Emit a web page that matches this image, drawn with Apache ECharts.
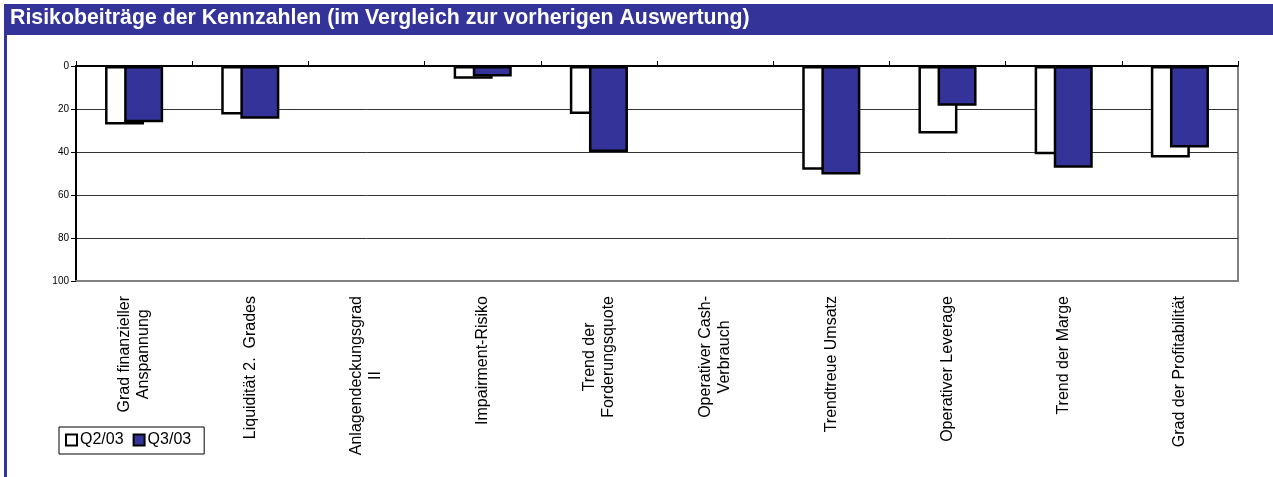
<!DOCTYPE html>
<html>
<head>
<meta charset="utf-8">
<title>Risikobeiträge der Kennzahlen</title>
<script src="https://cdn.jsdelivr.net/npm/echarts@6/dist/echarts.min.js"></script>
<style>
  html, body { margin: 0; padding: 0; background: #fff; }
  #main { width: 1273px; height: 477px; }
</style>
</head>
<body>
<div id="main"></div>
<script>
  // Kennzahlen (Kategorien)
  var categories = [
    'Grad finanzieller\nAnspannung',
    'Liquidität 2.  Grades',
    'Anlagendeckungsgrad\nII',
    'Impairment-Risiko',
    'Trend der\nForderungsquote',
    'Operativer Cash-\nVerbrauch',
    'Trendtreue Umsatz',
    'Operativer Leverage',
    'Trend der Marge',
    'Grad der Profitabilität'
  ];
  var seriesNames = ['Q2/03', 'Q3/03'];
  // keine Balken bei Anlagendeckungsgrad II und Operativer Cash-Verbrauch
  var q2Values = [27.2, 22.6, null, 5.9, 22.3, null, 48.3, 31.4, 41.1, 42.5];
  var q3Values = [26.2, 24.5, null, 4.9, 40.0, null, 50.5, 18.5, 47.3, 37.9];
  var yTicks = [0, 20, 40, 60, 80, 100];

  var FONT = '"Liberation Sans", Arial, sans-serif';
  var BLUE = '#333399';

  var myChart = echarts.init(document.getElementById('main'));

  var option = {
    animation: false,
    textStyle: { fontFamily: FONT, color: '#000' },
    title: {
      text: 'Risikobeiträge der Kennzahlen (im Vergleich zur vorherigen Auswertung)',
      left: 10,
      top: 8,
      padding: 0,
      textStyle: { color: '#fff', fontSize: 21.3, fontWeight: 'bold', fontFamily: FONT }
    },
    graphic: [
      // Titelbalken + linker Rand
      { type: 'rect', z: -1, shape: { x: 4, y: 4, width: 1269, height: 31 }, style: { fill: BLUE } },
      { type: 'rect', z: -1, shape: { x: 4, y: 4, width: 3, height: 473 }, style: { fill: BLUE } }
    ],
    legend: {
      data: seriesNames,
      left: 59,
      top: 427,
      orient: 'horizontal',
      icon: 'rect',
      itemWidth: 11,
      itemHeight: 11,
      itemGap: 9,
      padding: [5, 13, 6, 6],
      borderColor: '#000',
      borderWidth: 1,
      itemStyle: { borderColor: '#000', borderWidth: 2 },
      textStyle: { fontSize: 16, color: '#000', fontFamily: FONT, padding: [0, 0, 0, -2] }
    },
    grid: {
      left: 76,
      right: 35,
      top: 66,
      bottom: 196,
      show: true,
      borderColor: '#808080',
      borderWidth: 2,
      containLabel: false
    },
    xAxis: [
      {
        type: 'category',
        position: 'top',
        data: categories,
        axisLine: { show: true, lineStyle: { color: '#000', width: 2 } },
        axisTick: { show: true, interval: 0, length: 5, lineStyle: { color: '#000', width: 1 } },
        axisLabel: { show: false },
        splitLine: { show: false }
      },
      {
        type: 'category',
        position: 'bottom',
        data: categories,
        axisLine: { show: true, onZero: false, lineStyle: { color: '#808080', width: 2 } },
        axisTick: { show: false },
        axisLabel: {
          show: true,
          interval: 0,
          rotate: 90,
          margin: 15,
          fontSize: 16,
          lineHeight: 19,
          color: '#000',
          fontFamily: FONT,
          formatter: function (v) {
            return v.split('\n').map(function (l) { return '{c|' + l + '}'; }).join('\n');
          },
          rich: { c: { align: 'center', fontSize: 16, lineHeight: 19, fontFamily: FONT } }
        },
        splitLine: { show: false }
      }
    ],
    yAxis: {
      type: 'value',
      inverse: true,
      min: yTicks[0],
      max: yTicks[yTicks.length - 1],
      interval: yTicks[1] - yTicks[0],
      axisLine: { show: true, lineStyle: { color: '#000', width: 2 } },
      axisTick: { show: true, length: 5, lineStyle: { color: '#000' } },
      axisLabel: { fontSize: 10, color: '#000', margin: 7, fontFamily: FONT },
      splitLine: { show: true, lineStyle: { color: '#333', width: 1 } }
    },
    series: [
      {
        name: seriesNames[0],
        type: 'bar',
        xAxisIndex: 0,
        data: q2Values,
        barWidth: 39,
        barGap: '-51%',
        itemStyle: { color: '#fff', borderColor: '#000', borderWidth: 2.5 }
      },
      {
        name: seriesNames[1],
        type: 'bar',
        xAxisIndex: 0,
        data: q3Values,
        barWidth: 39,
        barGap: '-51%',
        itemStyle: { color: BLUE, borderColor: '#000', borderWidth: 2.5 }
      }
    ]
  };

  myChart.setOption(option);
</script>
</body>
</html>
